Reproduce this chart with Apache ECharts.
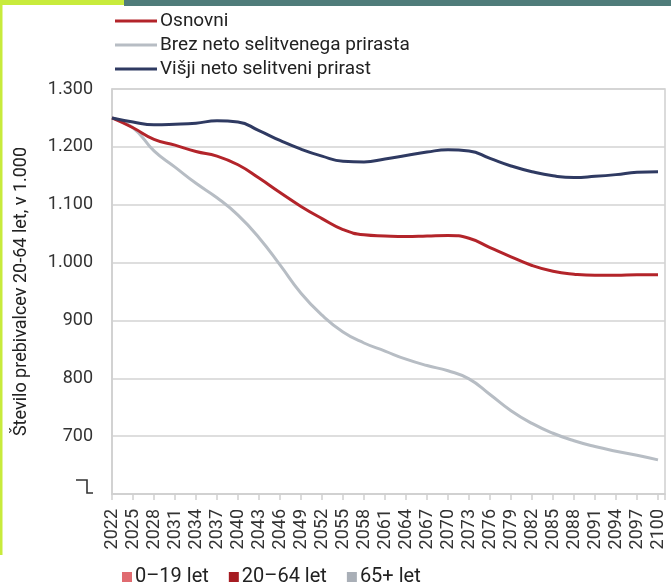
<!DOCTYPE html>
<html>
<head>
<meta charset="utf-8">
<script src="https://cdn.jsdelivr.net/npm/echarts@6/dist/echarts.min.js"></script>
<style>
html,body{margin:0;padding:0;background:#fff;}
#chart{width:671px;height:585px;}
</style>
</head>
<body>
<div id="chart"></div>
<script>
// Data (thousands of persons aged 20-64)
const years = [2022,2025,2028,2031,2034,2037,2040,2043,2046,2049,2052,2055,2058,2061,2064,2067,2070,2073,2076,2079,2082,2085,2088,2091,2094,2097,2100];
const osnovni = [1250,1233,1213,1203,1192,1184,1169,1146,1121,1097,1076,1057,1048,1046,1045,1046,1047,1042,1026,1010,995,985,980,978,978,979,979];
const brez    = [1250,1233,1193,1165,1137,1112,1082,1043,996,947,909,880,861,847,833,822,813,799,772,744,722,705,692,682,674,667,659];
const visji   = [1250,1243,1238,1239,1241,1245,1243,1228,1211,1196,1184,1175,1174,1179,1185,1191,1195,1193,1180,1167,1157,1150,1147,1149,1152,1156,1157];
const seriesNames = ['Osnovni','Brez neto selitvenega prirasta','Višji neto selitveni prirast'];
const ageGroups = ['0–19 let','20–64 let','65+ let'];
const yTicks = [600,700,800,900,1000,1100,1200,1300];
const yAxisTitle = 'Število prebivalcev 20-64 let, v 1.000';

const FONT = 'Roboto';
const pairs = arr => years.map((y,i)=>[y,arr[i]]);
function fmtY(v){
  if (v === 600) return '';
  if (v >= 1000) { const t = Math.floor(v/1000); const r = String(v%1000).padStart(3,'0'); return t + '.' + r; }
  return String(v);
}

const chart = echarts.init(document.getElementById('chart'), null, {renderer:'canvas'});
const lineCommon = { type:'line', symbol:'none', showSymbol:false, smooth:0.5, lineStyle:{width:3} };
chart.setOption({
  animation:false,
  backgroundColor:'#fff',
  textStyle:{fontFamily:FONT},
  grid:{left:112, right:6, top:89, bottom:91, show:true, borderColor:'#cfcfcf', borderWidth:1.5},
  legend:[{
    data:seriesNames.map(n=>({name:n, icon:'rect'})),
    orient:'vertical', left:110, top:6, itemWidth:42, itemHeight:3, itemGap:4,
    selectedMode:false,
    textStyle:{fontFamily:FONT, fontSize:19, color:'#222', lineHeight:20, padding:[0,0,0,-2]}
  },{
    data:ageGroups.map(n=>({name:n, icon:'rect'})),
    orient:'horizontal', left:117, top:562, itemWidth:10, itemHeight:10, itemGap:20,
    selectedMode:false,
    textStyle:{fontFamily:FONT, fontSize:20, color:'#222', padding:[0,0,0,-2]}
  }],
  xAxis:{
    type:'value', min:2022, max:2101, interval:3,
    axisLine:{show:true, lineStyle:{color:'#cfcfcf', width:1.5}},
    axisTick:{show:true, length:6, lineStyle:{color:'#cfcfcf', width:1.5}},
    splitLine:{show:false},
    axisLabel:{rotate:90, margin:15, fontFamily:FONT, fontSize:18, color:'#333',
      formatter:v => (v<=2100 && (v-2022)%3===0) ? String(v) : ''}
  },
  yAxis:{
    type:'value', min:600, max:1300, interval:100,
    name:yAxisTitle, nameLocation:'middle', nameGap:82,
    nameTextStyle:{fontFamily:FONT, fontSize:18, color:'#222'},
    axisLine:{show:true, lineStyle:{color:'#cfcfcf', width:1.5}},
    axisTick:{show:false},
    splitLine:{show:true, lineStyle:{color:'#d3d3d3', width:1.5}},
    axisLabel:{fontFamily:FONT, fontSize:18, color:'#333', margin:19, formatter:fmtY}
  },
  series:[
    Object.assign({}, lineCommon, {name:seriesNames[1], data:pairs(brez), color:'#b7bdc4', z:2}),
    Object.assign({}, lineCommon, {name:seriesNames[0], data:pairs(osnovni), color:'#b3242a', z:3}),
    Object.assign({}, lineCommon, {name:seriesNames[2], data:pairs(visji), color:'#2f3a62', z:4}),
    {name:ageGroups[0], type:'bar', data:[], color:'#e06b70'},
    {name:ageGroups[1], type:'bar', data:[], color:'#a61c22'},
    {name:ageGroups[2], type:'bar', data:[], color:'#a9afb7'}
  ]
});

// axis break mark at the bottom of the y axis + page decorations
const p = chart.convertToPixel({gridIndex:0}, [2022, 600]);
const bx = p[0] - 36, by = p[1] - 14;
chart.setOption({
  graphic:[
    {type:'rect', shape:{x:0,y:0,width:124,height:5}, style:{fill:'#c8eb3c'}, silent:true},
    {type:'rect', shape:{x:124,y:0,width:547,height:6}, style:{fill:'#4f7c7a'}, silent:true},
    {type:'rect', shape:{x:0,y:0,width:2.5,height:555}, style:{fill:'#c8eb3c'}, silent:true},
    {type:'polyline', shape:{points:[[bx,by],[bx+11,by],[bx+11,by+13],[bx+17,by+13]]},
     style:{stroke:'#333', lineWidth:1.6, fill:null}, silent:true}
  ]
});
</script>
</body>
</html>
